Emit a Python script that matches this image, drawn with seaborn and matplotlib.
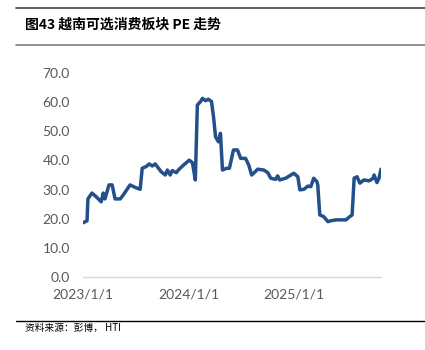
import matplotlib
matplotlib.use("Agg")
import matplotlib.pyplot as plt
import matplotlib.lines as mlines
import seaborn as sns
import pandas as pd

title = "图43 越南可选消费板块 PE 走势"
source = "资料来源：彭博， HTI"

dates = [
    "2023-01-01", "2023-01-15", "2023-01-18", "2023-02-01", "2023-02-15", "2023-03-05",
    "2023-03-12", "2023-03-18", "2023-04-01", "2023-04-12", "2023-04-22", "2023-05-10",
    "2023-05-20", "2023-06-13", "2023-07-04", "2023-07-18", "2023-07-25", "2023-08-08",
    "2023-08-18", "2023-08-29", "2023-09-08", "2023-09-29", "2023-10-13", "2023-10-20",
    "2023-10-30", "2023-11-06", "2023-11-20", "2023-11-27", "2023-12-15", "2024-01-04",
    "2024-01-15", "2024-01-25", "2024-02-01", "2024-02-12", "2024-02-19", "2024-02-29",
    "2024-03-10", "2024-03-21", "2024-03-28", "2024-04-04", "2024-04-14", "2024-04-21",
    "2024-04-28", "2024-05-12", "2024-05-22", "2024-06-05", "2024-06-19", "2024-06-30",
    "2024-07-17", "2024-07-28", "2024-08-07", "2024-08-14", "2024-08-28", "2024-09-18",
    "2024-10-02", "2024-10-12", "2024-10-29", "2024-11-05", "2024-11-12", "2024-12-03",
    "2024-12-31", "2025-01-14", "2025-01-21", "2025-02-04", "2025-02-18", "2025-02-28",
    "2025-03-10", "2025-03-21", "2025-03-24", "2025-03-31", "2025-04-14", "2025-04-28",
    "2025-05-09", "2025-05-26", "2025-06-12", "2025-06-30", "2025-07-10", "2025-07-21",
    "2025-07-28", "2025-08-07", "2025-08-17", "2025-08-31", "2025-09-18", "2025-10-02",
    "2025-10-05", "2025-10-15", "2025-10-22", "2025-10-29",
]
pe_values = [
    18.6, 19.3, 26.8, 28.8, 27.6, 25.8,
    28.8, 26.8, 31.6, 31.6, 26.8, 26.8,
    28.1, 31.6, 30.6, 30.1, 37.3, 37.9,
    38.8, 38.1, 38.8, 36.1, 35.0, 36.7,
    35.0, 36.5, 35.8, 36.7, 38.4, 40.1,
    39.2, 33.3, 59.0, 60.2, 61.3, 60.5,
    61.0, 60.2, 55.0, 48.1, 46.4, 49.3,
    36.7, 37.3, 37.3, 43.6, 43.6, 40.7,
    40.7, 38.4, 35.0, 35.6, 37.0, 36.7,
    35.8, 33.9, 33.5, 34.7, 33.3, 33.9,
    35.6, 34.4, 29.9, 30.1, 31.2, 31.0,
    33.9, 32.7, 31.6, 21.3, 20.7, 19.0,
    19.3, 19.6, 19.6, 19.6, 20.5, 21.3,
    33.9, 34.4, 32.2, 33.3, 33.0, 33.9,
    35.0, 32.4, 33.9, 37.0,
]
tick_dates = ["2023-01-01", "2024-01-01", "2025-01-01"]
tick_labels = ["2023/1/1", "2024/1/1", "2025/1/1"]
y_ticks = [0, 10, 20, 30, 40, 50, 60, 70]

df = pd.DataFrame({"date": pd.to_datetime(dates), "pe": pe_values})

sns.set_style("white")
plt.rcParams["font.family"] = ["Noto Sans CJK SC", "DejaVu Sans"]

fig = plt.figure(figsize=(4.25, 3.5), dpi=100)
ax = fig.add_axes([83 / 425, 1 - 277 / 350, (381 - 83) / 425, (277 - 73) / 350])

sns.lineplot(data=df, x="date", y="pe", ax=ax, color="#23508A", linewidth=2.5)

ax.set_ylim(0, 70)
ax.set_xlim(df["date"].min(), df["date"].max())
ax.set_yticks(y_ticks)
ax.set_yticklabels([f"{v:.1f}" for v in y_ticks], fontsize=10, color="#595959",
                   family=["Lato", "DejaVu Sans"])
ax.set_xticks(pd.to_datetime(tick_dates))
ax.set_xticklabels(tick_labels, fontsize=10, color="#595959",
                   family=["Lato", "DejaVu Sans"])
ax.tick_params(axis="x", length=0, pad=8)
ax.tick_params(axis="y", length=0, pad=9.5)
ax.set_xlabel("")
ax.set_ylabel("")
for s in ["top", "right", "left"]:
    ax.spines[s].set_visible(False)
ax.spines["bottom"].set_color("#D9D9D9")
ax.spines["bottom"].set_linewidth(1.0)
ax.grid(False)

# frame lines
fig.add_artist(mlines.Line2D([16 / 425, 1], [1 - 7.5 / 350] * 2, color="#404040", linewidth=1.2))
fig.add_artist(mlines.Line2D([16 / 425, 1], [1 - 44.5 / 350] * 2, color="#7F7F7F", linewidth=1.2))
fig.add_artist(mlines.Line2D([16 / 425, 1], [1 - 321 / 350] * 2, color="#000000", linewidth=1.0))

fig.text(25 / 425, 1 - 25 / 350, title, fontsize=10, fontweight="bold",
         ha="left", va="center", color="#000000")
fig.text(25 / 425, 1 - 328 / 350, source, fontsize=7, ha="left", va="center",
         color="#000000")

fig.savefig("out.png", dpi=100)
